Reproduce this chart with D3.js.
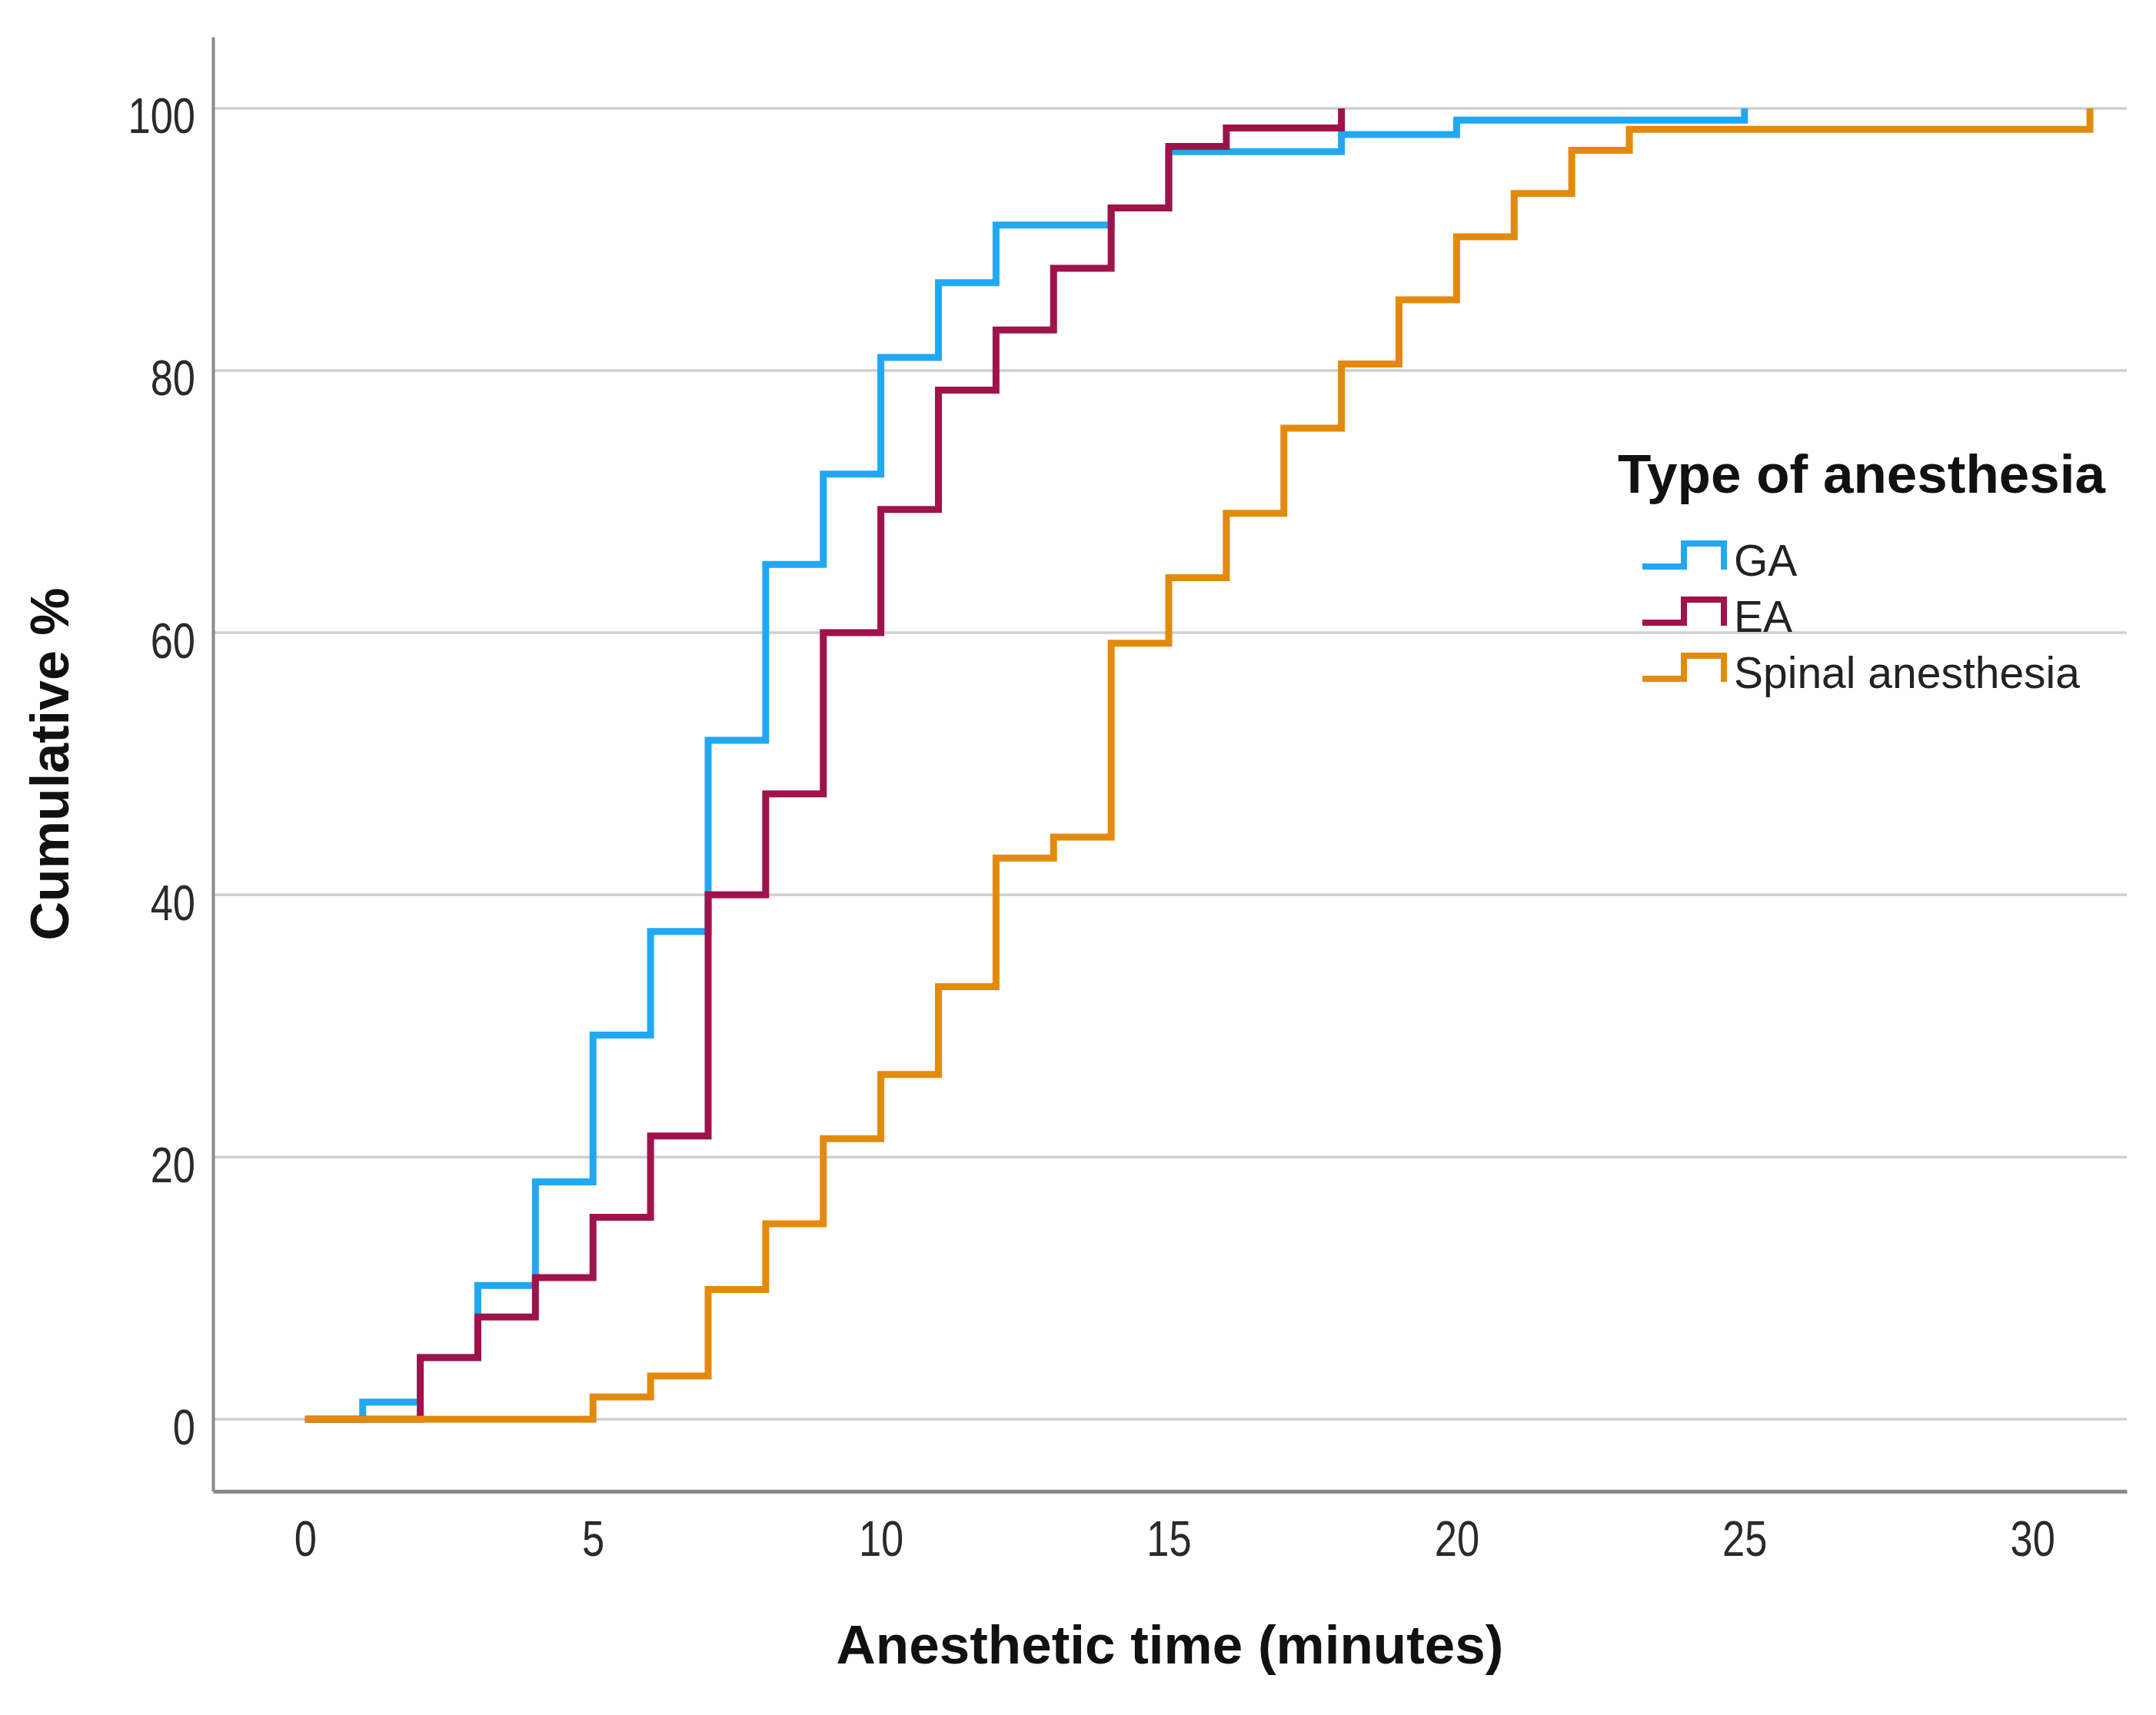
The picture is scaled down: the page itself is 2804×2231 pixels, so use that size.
<!DOCTYPE html>
<html>
<head>
<meta charset="utf-8">
<script src="https://cdn.jsdelivr.net/npm/d3@7"></script>
<style>
  body { margin: 0; background: #fff; }
  svg { display: block; }
</style>
</head>
<body>
<svg id="chart"></svg>
<script>
// cumulative % at each step time (minutes)
const gaTimes = [0, 1, 2, 3, 4, 5, 6, 7, 8, 9, 10, 11, 12, 14, 15, 18, 20, 25];
const gaPct = [0, 1.3, 4.7, 10.2, 18.1, 29.3, 37.2, 51.8, 65.2, 72.1, 81.0, 86.7, 91.1, 92.4, 96.7, 98.0, 99.1, 100];

const eaTimes = [0, 2, 3, 4, 5, 6, 7, 8, 9, 10, 11, 12, 13, 14, 15, 16, 18];
const eaPct = [0, 4.7, 7.8, 10.8, 15.4, 21.6, 40.0, 47.7, 60.0, 69.4, 78.5, 83.1, 87.8, 92.4, 97.1, 98.5, 100];

const saTimes = [0, 5, 6, 7, 8, 9, 10, 11, 12, 13, 14, 15, 16, 17, 18, 19, 20, 21, 22, 23, 31];
const saPct = [0, 1.7, 3.3, 9.9, 14.9, 21.4, 26.3, 33.0, 42.8, 44.4, 59.2, 64.2, 69.1, 75.6, 80.5, 85.4, 90.2, 93.5, 96.8, 98.4, 100];

const seriesNames = ["GA", "EA", "Spinal anesthesia"];
const xTicks = [0, 5, 10, 15, 20, 25, 30];
const yTicks = [0, 20, 40, 60, 80, 100];

const width = 2804, height = 2231;
const margin = { top: 48, right: 38, bottom: 291, left: 277 };
const colors = ["#22a8f2", "#a0124b", "#e38a0c"];
const squeeze = 0.82; // tick labels are drawn narrow in the original

const svg = d3.select("#chart").attr("width", width).attr("height", height);

const x = d3.scaleLinear().domain([-1.6, 31.64]).range([margin.left, width - margin.right]);
const y = d3.scaleLinear().domain([-5.5, 105.45]).range([height - margin.bottom, margin.top]);

// gridlines
svg.append("g")
  .selectAll("line")
  .data(yTicks)
  .join("line")
  .attr("x1", margin.left)
  .attr("x2", width - margin.right)
  .attr("y1", (d) => y(d))
  .attr("y2", (d) => y(d))
  .attr("stroke", "#cfcfcf")
  .attr("stroke-width", 3.5);

// axes
const yAxis = svg.append("g")
  .attr("transform", "translate(" + margin.left + ",0)")
  .call(d3.axisLeft(y).tickValues(yTicks).tickSize(0).tickPadding(23));
yAxis.select(".domain").attr("stroke", "#8a8a8a").attr("stroke-width", 4);
yAxis.selectAll("text").attr("dy", "0.5em").attr("x", -23 / squeeze);

const xAxis = svg.append("g")
  .attr("transform", "translate(0," + (height - margin.bottom) + ")")
  .call(d3.axisBottom(x).tickValues(xTicks).tickSize(0).tickPadding(39));
xAxis.select(".domain").attr("stroke", "#8a8a8a").attr("stroke-width", 5);

svg.selectAll(".tick text")
  .attr("fill", "#2a2a2a")
  .attr("transform", "scale(" + squeeze + ",1)")
  .style("font-family", "'Liberation Sans', Arial, sans-serif")
  .style("font-size", "64px");

// step lines
const series = [
  { times: gaTimes, pct: gaPct },
  { times: eaTimes, pct: eaPct },
  { times: saTimes, pct: saPct },
];
const line = d3.line()
  .x((d) => x(d[0]))
  .y((d) => y(d[1]))
  .curve(d3.curveStepAfter);

svg.append("g")
  .selectAll("path")
  .data(series)
  .join("path")
  .attr("fill", "none")
  .attr("stroke", (d, i) => colors[i])
  .attr("stroke-width", 9)
  .attr("stroke-linejoin", "miter")
  .attr("d", (d) => line(d.times.map((t, i) => [t, d.pct[i]])));

// axis titles
svg.append("text")
  .attr("x", (margin.left + width - margin.right) / 2)
  .attr("y", 2164)
  .attr("text-anchor", "middle")
  .style("font-family", "'Liberation Sans', Arial, sans-serif")
  .style("font-weight", "bold")
  .style("font-size", "71px")
  .attr("fill", "#111")
  .text("Anesthetic time (minutes)");

svg.append("text")
  .attr("transform", "translate(89," + (margin.top + height - margin.bottom) / 2 + ") rotate(-90)")
  .attr("text-anchor", "middle")
  .style("font-family", "'Liberation Sans', Arial, sans-serif")
  .style("font-weight", "bold")
  .style("font-size", "70px")
  .attr("fill", "#111")
  .text("Cumulative %");

// legend
const legend = svg.append("g").attr("transform", "translate(2104,0)");
legend.append("text")
  .attr("x", 0)
  .attr("y", 641)
  .style("font-family", "'Liberation Sans', Arial, sans-serif")
  .style("font-weight", "bold")
  .style("font-size", "71px")
  .attr("fill", "#111")
  .text("Type of anesthesia");

const items = legend.selectAll("g.item")
  .data(seriesNames)
  .join("g")
  .attr("class", "item")
  .attr("transform", (d, i) => "translate(32," + (737 + i * 73) + ")");

items.append("path")
  .attr("fill", "none")
  .attr("stroke", (d, i) => colors[i])
  .attr("stroke-width", 8)
  .attr("d", "M0,0 H54 V-30 H106 V4");

items.append("text")
  .attr("x", 119)
  .attr("y", 12)
  .style("font-family", "'Liberation Sans', Arial, sans-serif")
  .style("font-size", "57px")
  .attr("fill", "#222")
  .text((d) => d);
</script>
</body>
</html>
